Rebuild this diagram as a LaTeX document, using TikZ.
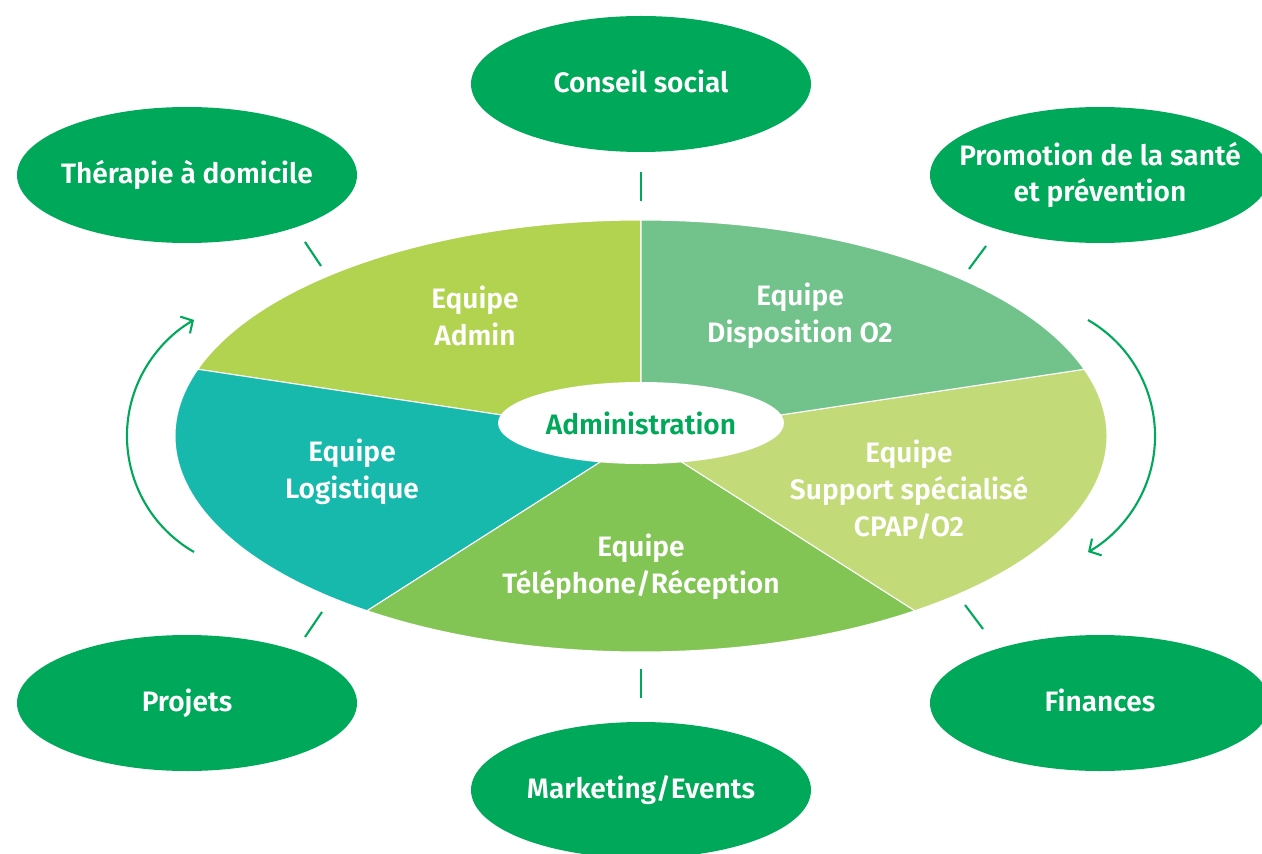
\documentclass[tikz,border=0pt]{standalone}
\usepackage{fontspec}
\setmainfont{Fira Sans}[BoldFont={Fira Sans SemiBold}]
\usetikzlibrary{shapes,arrows.meta,positioning}

\definecolor{gruen}{RGB}{0,168,89}
\definecolor{admin}{RGB}{177,211,79}
\definecolor{dispo}{RGB}{113,195,139}
\definecolor{logistik}{RGB}{23,185,172}
\definecolor{telefon}{RGB}{131,197,84}
\definecolor{support}{RGB}{194,218,119}

\begin{document}
\begin{tikzpicture}[
	bubble/.style={ellipse,fill=gruen,minimum width=6.8cm,minimum height=2.72cm,inner xsep=-1cm,inner ysep=0pt,text=white,align=center,font=\bfseries\fontsize{16}{21}\selectfont},
	teamtext/.style={text=white,align=center,font=\bfseries\fontsize{16}{21}\selectfont},
	strich/.style={draw=gruen,line width=1.2pt},
	umlauf/.style={draw=gruen,line width=1.2pt,-{Straight Barb[length=5pt,width=11pt]}}
	]
	\useasboundingbox (-12.82,-8.34) rectangle (12.42,8.72);

	% Teams im Kreis
	\foreach \a/\farbe in {90/admin,162/logistik,234/telefon,306/support,18/dispo}
		\fill[\farbe,draw=white,line width=0.6pt] (0,0) -- (\a:9.32 and 4.32) arc[start angle=\a,end angle=\a+72,x radius=9.32,y radius=4.32] -- cycle;

	\node[ellipse,fill=white,minimum width=5.72cm,minimum height=1.64cm,inner sep=0pt,text=gruen,font=\bfseries\fontsize{16}{21}\selectfont] (verwaltung) at (0,0.26) {Administration};

	\node[teamtext] (tadmin) at (-3.32,2.40) {Equipe\\Admin};
	\node[teamtext] (tdispo) at (3.18,2.40) {Equipe\\Disposition O2};
	\node[teamtext] (tlogistik) at (-5.78,-0.72) {Equipe\\Logistique};
	\node[teamtext] (ttelefon) at (0,-2.62) {Equipe\\Téléphone/Réception};
	\node[teamtext] (tsupport) at (5.36,-1.08) {Equipe\\Support spécialisé\\CPAP/O2};

	% Bereiche aussen
	\node[bubble] (conseil) at (0,7.04) {Conseil social\vphantom{g}};
	\node[bubble] (therapie) at (-9.08,5.22) {Thérapie à domicile};
	\node[bubble] (promotion) at (9.18,5.22) {Promotion de la santé\\et prévention};
	\node[bubble] (projets) at (-9.08,-5.34) {Projets};
	\node[bubble] (finances) at (9.18,-5.34) {Finances\vphantom{g}};
	\node[bubble] (marketing) at (0,-7.08) {Marketing/Events};

	\coordinate (s1a) at (0,5.28);      \coordinate (s1b) at (0,4.70);
	\coordinate (s2a) at (-6.72,3.88);  \coordinate (s2b) at (-6.40,3.40);
	\coordinate (s3a) at (6.90,3.80);   \coordinate (s3b) at (6.56,3.34);
	\coordinate (s4a) at (-6.38,-3.52); \coordinate (s4b) at (-6.72,-4.02);
	\coordinate (s5a) at (6.48,-3.38);  \coordinate (s5b) at (6.84,-3.86);
	\coordinate (s6a) at (0,-4.66);     \coordinate (s6b) at (0,-5.24);
	\foreach \n in {1,...,6}
		\draw[strich] (s\n a) -- (s\n b);

	% Pfeile links und rechts
	\coordinate (pfeilL) at (-8.94,-2.32);
	\coordinate (pfeilR) at (8.94,2.32);
	\draw[umlauf] (pfeilL) arc[start angle=240,end angle=120,radius=2.68];
	\draw[umlauf] (pfeilR) arc[start angle=60,end angle=-60,radius=2.68];
\end{tikzpicture}
\end{document}
